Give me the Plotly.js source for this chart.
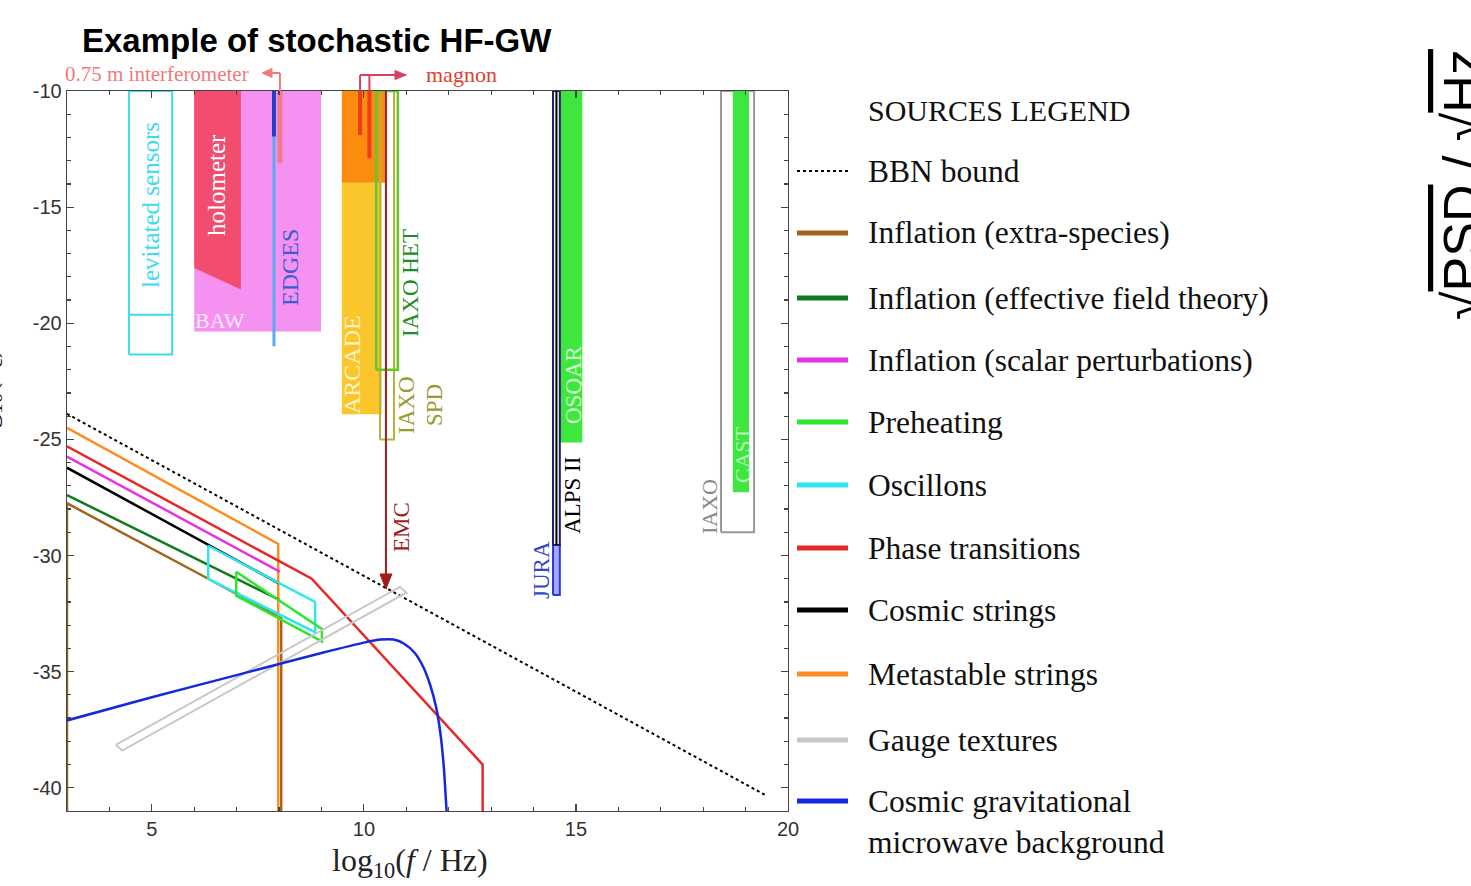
<!DOCTYPE html>
<html>
<head>
<meta charset="utf-8">
<script src="https://cdn.plot.ly/plotly-3.0.1.min.js"></script>
<style>html,body{margin:0;padding:0;background:#fff;}#chart{width:1471px;height:886px;}</style>
</head>
<body>
<div id="chart"></div>
<script>
// ---------- axes ----------
const xRange = [3, 20];
const yRange = [-41, -10];
const xTickVals = [5, 10, 15, 20];
const xTickText = ['5', '10', '15', '20'];
const yTickVals = [-10, -15, -20, -25, -30, -35, -40];
const yTickText = ['-10', '-15', '-20', '-25', '-30', '-35', '-40'];

// ---------- sources (log10 f, log10 amplitude) ----------
const bbnX = [3, 19.45];
const bbnY = [-23.9, -40.3];
const infExtraX = [3, 3, 6.33, 8.05, 8.05];
const infExtraY = [-41, -27.75, -31.0, -32.7, -41];
const infEftX = [3, 8.0];
const infEftY = [-27.4, -31.9];
const infScalarX = [3, 8.02];
const infScalarY = [-25.74, -30.7];
const preheatX = [6.99, 9.01, 9.01, 6.99, 6.99];
const preheatY = [-30.7, -33.16, -33.7, -31.73, -30.7];
const oscX = [6.33, 8.85, 8.85, 6.33, 6.33];
const oscY = [-29.58, -32.0, -33.3, -31.01, -29.58];
const phaseX = [3, 8.77, 12.8, 12.8];
const phaseY = [-25.3, -31.0, -39.0, -41];
const cosmicX = [3, 6.3, 8.0];
const cosmicY = [-26.22, -29.51, -31.2];
const metaX = [3, 7.98, 7.98];
const metaY = [-24.5, -29.5, -41];
const gaugeX = [4.15, 10.85, 11.0, 4.3, 4.15];
const gaugeY = [-38.15, -31.35, -31.6, -38.4, -38.15];
const cmbX = [3, 5, 7, 8, 9, 10, 10.4, 10.7, 10.95, 11.2, 11.4, 11.55, 11.7, 11.8, 11.88, 11.95];
const cmbY = [-37.1, -36.1, -35.15, -34.67, -34.2, -33.75, -33.62, -33.62, -33.8, -34.2, -34.8, -35.5, -36.5, -37.6, -39.0, -41];

// ---------- detectors ----------
const levitX = [4.46, 5.48];   const levitY = [-21.35, -10];  const levitMidY = -19.63;
const bawX = [6.0, 8.99];      const bawY = [-20.36, -10];
const holoX = [6.0, 7.1, 7.1, 6.0, 6.0]; const holoY = [-10, -10, -18.55, -17.62, -10];
const interfX = 8.02;          const interfY = [-13.1, -10];
const edgesX = 7.88;           const edgesY = [-20.99, -10];   const edgesDarkY = [-11.96, -10];
const arcOrX = [9.48, 10.5];   const arcOrY = [-13.95, -10];
const arcYeX = [9.48, 10.42];  const arcYeY = [-23.92, -13.95];
const magnonX = [9.91, 10.13]; const magnonYmin = [-11.9, -12.9];
const iaxoHetX = [10.29, 10.8]; const iaxoHetY = [-22.0, -10];
const iaxoSpdX = [10.38, 10.71]; const iaxoSpdY = [-25.0, -10];
const emcX = 10.52;            const emcY = [-31.44, -10];
const alpsX = [14.46, 14.62];  const alpsY = [-29.55, -10];
const juraX = [14.46, 14.62];  const juraY = [-31.7, -29.55];
const osqarX = [14.62, 15.15]; const osqarY = [-25.13, -10];
const iaxoX = [18.42, 19.2];   const iaxoY = [-29.0, -10];
const castX = [18.7, 19.08];   const castY = [-27.28, -10];

// ---------- legend ----------
const legendNames = ['BBN bound', 'Inflation (extra-species)', 'Inflation (effective field theory)',
  'Inflation (scalar perturbations)', 'Preheating', 'Oscillons', 'Phase transitions', 'Cosmic strings',
  'Metastable strings', 'Gauge textures', 'Cosmic gravitational<br>microwave background'];
const legendColors = ['#000000', '#a5641e', '#0f7a1e', '#e632e6', '#2ee62e', '#2ee6f0', '#e62828',
  '#000000', '#ff8c1e', '#c8c8c8', '#1428dc'];

// ---------- helpers (layout) ----------
const ML = 67, MR = 683, MT = 91, MB = 75, W = 1471, H = 886;
const PW = W - ML - MR, PH = H - MT - MB;
const PX = p => (p - ML) / PW;
const PY = p => (H - MB - p) / PH;
function rect(xs, ys) { return { x: [xs[0], xs[1], xs[1], xs[0], xs[0]], y: [ys[0], ys[0], ys[1], ys[1], ys[0]] }; }

const traces = [];
function fillPoly(x, y, color) {
  traces.push({ x: x, y: y, type: 'scatter', mode: 'lines', fill: 'toself', fillcolor: color,
    line: { width: 0, color: color }, hoverinfo: 'skip', showlegend: false });
}
function linePath(x, y, color, width, dash, shape) {
  traces.push({ x: x, y: y, type: 'scatter', mode: 'lines',
    line: { width: width, color: color, dash: dash || 'solid', shape: shape || 'linear', smoothing: 0.6 },
    hoverinfo: 'skip', showlegend: false });
}

// detectors
let r;
r = rect(bawX, bawY); fillPoly(r.x, r.y, 'rgba(244,140,240,0.95)');
fillPoly(holoX, holoY, '#f24d6e');
r = rect(levitX, levitY); linePath(r.x, r.y, '#3cdcf0', 2);
linePath(levitX, [levitMidY, levitMidY], '#3cdcf0', 2);
linePath([interfX, interfX], interfY, '#f07a8c', 5);
linePath([edgesX, edgesX], edgesY, '#5aaaf0', 3);
linePath([edgesX, edgesX], edgesDarkY, '#2040c8', 4);
r = rect(arcYeX, arcYeY); fillPoly(r.x, r.y, '#fbc62c');
r = rect(arcOrX, arcOrY); fillPoly(r.x, r.y, '#fb8c10');
linePath([magnonX[0], magnonX[0]], [magnonYmin[0], -10], '#f03c1e', 4);
linePath([magnonX[1], magnonX[1]], [magnonYmin[1], -10], '#f03c1e', 4);
r = rect(iaxoSpdX, iaxoSpdY); linePath(r.x, r.y, '#b4b43c', 2);
r = rect(iaxoHetX, iaxoHetY); linePath(r.x, r.y, '#64c828', 2.5);
linePath([emcX, emcX], emcY, '#a01e1e', 2);
r = rect(osqarX, osqarY); fillPoly(r.x, r.y, '#3ee63e');
r = rect(juraX, juraY); fillPoly(r.x, r.y, '#a8a8ff'); linePath(r.x, r.y, '#2838d8', 2);
r = rect(alpsX, alpsY); linePath(r.x, r.y, '#1e1e64', 2);
linePath([(alpsX[0] + alpsX[1]) / 2, (alpsX[0] + alpsX[1]) / 2], alpsY, '#000000', 2);
r = rect(iaxoX, iaxoY); linePath(r.x, r.y, '#999999', 2);
r = rect(castX, castY); fillPoly(r.x, r.y, '#3ee63e');

// sources
linePath(bbnX, bbnY, '#000000', 2, 'dot');
linePath(infExtraX, infExtraY, legendColors[1], 2.5);
linePath(metaX, metaY, legendColors[8], 2.5);
linePath(infEftX, infEftY, legendColors[2], 2.5);
linePath(cosmicX, cosmicY, legendColors[7], 2.5);
linePath(infScalarX, infScalarY, legendColors[3], 2.5);
linePath(phaseX, phaseY, legendColors[6], 2.5);
linePath(oscX, oscY, legendColors[5], 2.5);
linePath(preheatX, preheatY, legendColors[4], 2.5);
linePath(gaugeX, gaugeY, legendColors[9], 2);
linePath(cmbX, cmbY, legendColors[10], 2.5, 'solid', 'spline');

// ---------- annotations ----------
const serif = 'Liberation Serif';
const ann = [];
function vlabel(text, xp, yp, color, size) {
  ann.push({ text: text, xref: 'paper', yref: 'paper', x: PX(xp), y: PY(yp), textangle: -90,
    showarrow: false, xanchor: 'center', yanchor: 'middle', font: { family: serif, size: size || 25, color: color } });
}
vlabel('levitated sensors', 150, 205, '#3cdcf0');
vlabel('holometer', 216, 185, '#ffffff');
vlabel('EDGES', 290, 268, '#3c5ad2', 24);
vlabel('ARCADE', 352, 365, '#fff3c8', 24);
vlabel('IAXO HET', 410, 283, '#1e8c28', 23);
vlabel('IAXO', 406, 405, '#9a9a2e', 23);
vlabel('SPD', 434, 405, '#9a9a2e', 23);
vlabel('EMC', 401, 527, '#a01e1e', 23);
vlabel('JURA', 541, 570, '#3246c8', 23);
vlabel('ALPS II', 572, 496, '#000000', 23);
vlabel('OSQAR', 573, 385, '#d2ffd2', 23);
vlabel('IAXO', 710, 507, '#888888', 22);
vlabel('CAST', 742, 455, '#b4f5b4', 22);
ann.push({ text: 'BAW', xref: 'paper', yref: 'paper', x: PX(220), y: PY(320), showarrow: false,
  xanchor: 'center', yanchor: 'middle', font: { family: serif, size: 22, color: '#fde6fd' } });
ann.push({ text: '0.75 m interferometer', xref: 'paper', yref: 'paper', x: PX(157), y: PY(74), showarrow: false,
  xanchor: 'center', yanchor: 'middle', font: { family: serif, size: 21, color: '#f07a7a' } });
ann.push({ text: 'magnon', xref: 'paper', yref: 'paper', x: PX(461), y: PY(74), showarrow: false,
  xanchor: 'center', yanchor: 'middle', font: { family: serif, size: 22, color: '#e0402e' } });
// x-axis title
ann.push({ text: 'log<sub>10</sub>(<i>f</i> / Hz)', xref: 'paper', yref: 'paper', x: PX(410), y: PY(862),
  showarrow: false, xanchor: 'center', yanchor: 'middle', font: { family: serif, size: 32, color: '#222' } });
// clipped y-axis title at far left (cut off in the reference too)
ann.push({ text: 'log<sub>10</sub>(<i>h</i><sub>c</sub>)', xref: 'paper', yref: 'paper', x: PX(9), y: PY(400),
  textangle: -90, showarrow: false, xanchor: 'right', yanchor: 'middle', font: { family: serif, size: 30, color: '#111' } });
// right side label (cut off in the reference too)
ann.push({ text: '√<span style="text-decoration:overline">PSD</span> / √<span style="text-decoration:overline">Hz</span>',
  xref: 'paper', yref: 'paper', x: PX(1431), y: PY(185), textangle: -90, showarrow: false,
  xanchor: 'left', yanchor: 'middle', font: { family: 'Liberation Sans', size: 52, color: '#000' } });
// legend
ann.push({ text: 'SOURCES LEGEND', xref: 'paper', yref: 'paper', x: PX(866), y: PY(110), showarrow: false,
  xanchor: 'left', yanchor: 'middle', font: { family: serif, size: 30, color: '#111' } });
const legY = [171, 233, 298, 360, 422, 485, 548, 610, 674, 740, 801];
const shapes = [];
legendNames.forEach((name, i) => {
  const isLast = i === legendNames.length - 1;
  ann.push({ text: name, xref: 'paper', yref: 'paper', x: PX(866), y: PY(isLast ? 822 : legY[i]), showarrow: false,
    xanchor: 'left', yanchor: 'middle', align: 'left', font: { family: serif, size: 31.5, color: '#111' } });
  shapes.push({ type: 'line', xref: 'paper', yref: 'paper', x0: PX(797), x1: PX(848), y0: PY(legY[i]), y1: PY(legY[i]),
    line: { color: legendColors[i], width: i === 0 ? 2 : 5, dash: i === 0 ? 'dot' : 'solid' } });
});
// bracket lines above plot
const pink = '#f07a7a', crimson = '#d8405e';
shapes.push({ type: 'line', xref: 'x', yref: 'paper', x0: interfX, x1: interfX, y0: PY(91), y1: PY(73), line: { color: pink, width: 2 } });
shapes.push({ type: 'line', xref: 'paper', yref: 'paper', x0: PX(268), x1: PX(280), y0: PY(73), y1: PY(73), line: { color: pink, width: 2 } });
shapes.push({ type: 'path', xref: 'paper', yref: 'paper', path: `M ${PX(262)} ${PY(73)} L ${PX(272)} ${PY(68.5)} L ${PX(272)} ${PY(77.5)} Z`,
  fillcolor: pink, line: { color: pink, width: 1 } });
shapes.push({ type: 'line', xref: 'x', yref: 'paper', x0: magnonX[0], x1: magnonX[0], y0: PY(91), y1: PY(75), line: { color: crimson, width: 2 } });
shapes.push({ type: 'line', xref: 'x', yref: 'paper', x0: magnonX[1], x1: magnonX[1], y0: PY(91), y1: PY(75), line: { color: crimson, width: 2 } });
shapes.push({ type: 'line', xref: 'x', yref: 'paper', x0: magnonX[0], x1: 11.0, y0: PY(75), y1: PY(75), line: { color: crimson, width: 2 } });
shapes.push({ type: 'path', xref: 'paper', yref: 'paper', path: `M ${PX(406)} ${PY(75)} L ${PX(395)} ${PY(70.5)} L ${PX(395)} ${PY(79.5)} Z`,
  fillcolor: crimson, line: { color: crimson, width: 1 } });
// EMC arrowhead (pixel-sized, anchored at the line end)
shapes.push({ type: 'path', xref: 'x', yref: 'y', xsizemode: 'pixel', ysizemode: 'pixel', xanchor: emcX, yanchor: emcY[0],
  path: 'M 0 0 L -6 15 L 6 15 Z', fillcolor: '#a01e1e', line: { color: '#a01e1e', width: 1 } });

const axisCommon = {
  showline: true, linecolor: '#444', linewidth: 1.3, mirror: 'allticks', ticks: 'inside', ticklen: 7,
  tickcolor: '#444', tickwidth: 1.2, showgrid: false, zeroline: false, tickmode: 'array',
  tickfont: { family: 'Liberation Sans', size: 20, color: '#333' },
  minor: { tickmode: 'linear', tick0: 0, dtick: 1, ticks: 'inside', ticklen: 4, tickcolor: '#444', showgrid: false }
};

const layout = {
  width: W, height: H,
  margin: { l: ML, r: MR, t: MT, b: MB, pad: 0 },
  paper_bgcolor: '#fff', plot_bgcolor: '#fff',
  showlegend: false,
  title: { text: '<b>Example of stochastic HF-GW</b>', font: { family: 'Liberation Sans', size: 33, color: '#000' },
    xref: 'container', yref: 'container', x: 82 / W, xanchor: 'left', y: 1 - 40 / H, yanchor: 'middle' },
  xaxis: Object.assign({}, axisCommon, { range: xRange, tickvals: xTickVals, ticktext: xTickText }),
  yaxis: Object.assign({}, axisCommon, { range: yRange, tickvals: yTickVals, ticktext: yTickText }),
  annotations: ann,
  shapes: shapes
};

Plotly.newPlot('chart', traces, layout, { displayModeBar: false, staticPlot: true });
</script>
</body>
</html>
